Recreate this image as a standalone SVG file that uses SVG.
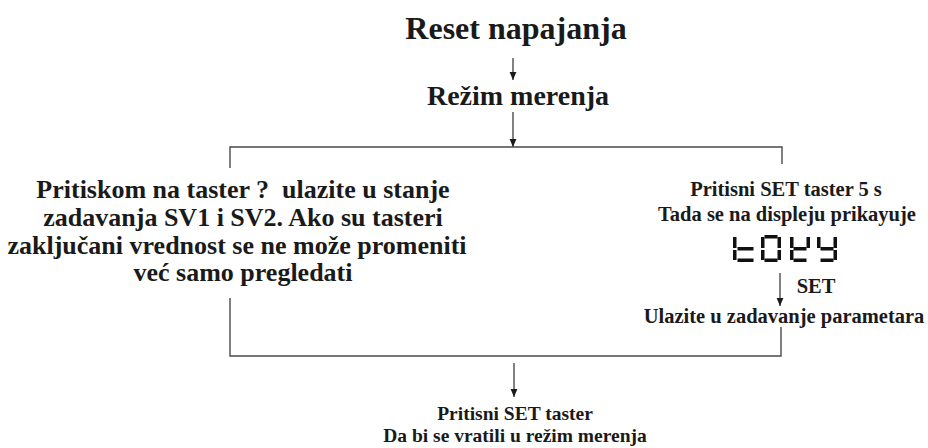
<svg xmlns="http://www.w3.org/2000/svg" width="928" height="448" viewBox="0 0 928 448">
<style>
text{font-family:"Liberation Serif","Times New Roman",serif;font-weight:bold;fill:#1a1a1a;text-anchor:middle}
.t1{font-size:32px}
.t2{font-size:28px}
.tl{font-size:26px}
.tr{font-size:20.5px}
.tb{font-size:19.5px}
.frame{fill:none;stroke:#4a4a4a;stroke-width:1.4}
.arr{fill:none;stroke:#1a1a1a;stroke-width:1.1;marker-end:url(#ah)}
.seg{fill:#111}
</style>
<defs>
<marker id="ah" viewBox="0 0 8 8" refX="8" refY="4" markerWidth="8" markerHeight="8" markerUnits="userSpaceOnUse" orient="auto">
<path d="M0,0.6 L8,4 L0,7.4 z" fill="#1a1a1a"/>
</marker>
</defs>

<g id="connectors">
<line class="arr" x1="513" y1="58" x2="513" y2="80"/>
<line class="arr" x1="513" y1="112" x2="513" y2="147"/>
<path class="frame" d="M230,168 V147 H782 V164"/>
<path class="frame" d="M230,298 V356 H781 V327"/>
<line class="arr" x1="780" y1="273" x2="780" y2="306"/>
<line class="arr" x1="514" y1="363" x2="514" y2="397"/>
</g>

<g id="n-reset"><text class="t1" x="516" y="39">Reset napajanja</text></g>
<g id="n-rezim"><text class="t2" x="518" y="105">Režim merenja</text></g>

<g id="n-left">
<text class="tl" x="243" y="198">Pritiskom na taster ?&#160; ulazite u stanje</text>
<text class="tl" x="243" y="226">zadavanja SV1 i SV2. Ako su tasteri</text>
<text class="tl" x="237" y="254">zaključani vrednost se ne može promeniti</text>
<text class="tl" x="243" y="281">već samo pregledati</text>
</g>

<g id="n-right">
<text class="tr" x="786" y="196">Pritisni SET taster 5 s</text>
<text class="tr" x="787" y="221">Tada se na displeju prikayuje</text>
<g id="display">
<g transform="translate(733,235)">
<rect x="0" y="2" width="3.5" height="11" class="seg"/>
<rect x="0" y="15" width="3.5" height="10" class="seg"/>
<rect x="4.5" y="12" width="16" height="3.5" class="seg"/>
<rect x="4.5" y="23.5" width="16" height="3.5" class="seg"/>
</g>
<g transform="translate(761,235)">
<rect x="3.5" y="0" width="13" height="3.5" class="seg"/>
<rect x="16.5" y="2" width="3.5" height="11" class="seg"/>
<rect x="16.5" y="15" width="3.5" height="10" class="seg"/>
<rect x="3.5" y="23.5" width="13" height="3.5" class="seg"/>
<rect x="0" y="15" width="3.5" height="10" class="seg"/>
<rect x="0" y="2" width="3.5" height="11" class="seg"/>
</g>
<g transform="translate(790,235)">
<rect x="0" y="2" width="3.5" height="11" class="seg"/>
<rect x="16.5" y="2" width="3.5" height="11" class="seg"/>
<rect x="3.5" y="12" width="13" height="3.5" class="seg"/>
<rect x="0" y="15" width="3.5" height="10" class="seg"/>
<rect x="3.5" y="23.5" width="13" height="3.5" class="seg"/>
</g>
<g transform="translate(817,235)">
<rect x="0" y="2" width="3.5" height="11" class="seg"/>
<rect x="16.5" y="2" width="3.5" height="11" class="seg"/>
<rect x="3.5" y="12" width="13" height="3.5" class="seg"/>
<rect x="16.5" y="15" width="3.5" height="10" class="seg"/>
<rect x="3.5" y="23.5" width="13" height="3.5" class="seg"/>
</g>
</g>
<text class="tr" x="816" y="293">SET</text>
<text class="tr" x="784" y="323">Ulazite u zadavanje parametara</text>
</g>

<g id="n-bottom">
<text class="tb" x="515" y="420">Pritisni SET taster</text>
<text class="tb" x="515" y="442">Da bi se vratili u režim merenja</text>
</g>
</svg>
